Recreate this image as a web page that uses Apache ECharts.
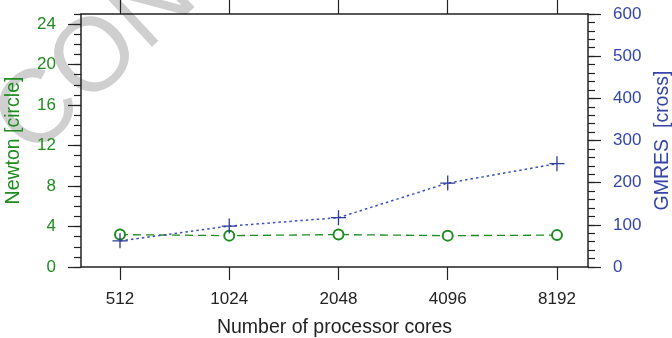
<!DOCTYPE html>
<html>
<head>
<meta charset="utf-8">
<script src="https://cdn.jsdelivr.net/npm/echarts@6/dist/echarts.min.js"></script>
<style>html,body{margin:0;padding:0;background:#fff}#c{width:672px;height:338px}</style>
</head>
<body>
<div id="c"></div>
<script>
const categories = ['512', '1024', '2048', '4096', '8192'];
const newtonValues = [3.2, 3.1, 3.2, 3.1, 3.15];
const gmresValues = [62, 97, 117, 199, 245];
const leftTicks = [0, 4, 8, 12, 16, 20, 24];
const rightTicks = [0, 100, 200, 300, 400, 500, 600];

const FONT = 'Liberation Sans, Arial, Helvetica, sans-serif';
const GREEN = '#1e8c1e';
const BLUE = '#3545a8';
const FRAME = '#222';
const catIdx = categories.map((_, i) => i);

const chart = echarts.init(document.getElementById('c'), null, {renderer: 'canvas'});

const xCommon = {
  type: 'value', min: -0.357, max: 4.284,
  splitLine: {show: false},
  axisLine: {show: true, onZero: false, lineStyle: {color: FRAME, width: 1.5}},
  axisTick: {show: true, customValues: catIdx, inside: false, lineStyle: {color: FRAME, width: 1.2}}
};

const option = {
  animation: false,
  grid: {left: 81, right: 84, top: 14, bottom: 71, containLabel: false, outerBoundsMode: 'none'},
  graphic: [{
    type: 'text', z: -10, zlevel: 0,
    x: 12, y: 138, rotation: 43 * Math.PI / 180,
    style: {text: 'CONFIDENTIAL', fontSize: 104, fontFamily: FONT, fill: '#cfcfcf', align: 'left', verticalAlign: 'middle'}
  }],
  xAxis: [
    Object.assign({}, xCommon, {
      position: 'bottom',
      axisTick: Object.assign({}, xCommon.axisTick, {length: 13}),
      axisLabel: {show: true, customValues: catIdx, margin: 24, color: '#222', fontSize: 17, fontFamily: FONT,
        formatter: v => categories[Math.round(v)]},
      name: 'Number of processor cores', nameLocation: 'middle', nameGap: 51, nameMoveOverlap: false,
      nameTextStyle: {color: '#222', fontSize: 19.5, fontFamily: FONT}
    }),
    Object.assign({}, xCommon, {
      position: 'top',
      axisTick: Object.assign({}, xCommon.axisTick, {length: 15}),
      axisLabel: {show: false}
    })
  ],
  yAxis: [
    {
      type: 'value', position: 'left', min: 0, max: 25,
      splitLine: {show: false},
      axisLine: {show: true, onZero: false, lineStyle: {color: FRAME, width: 1.5}},
      axisTick: {show: true, customValues: leftTicks, length: 13, lineStyle: {color: FRAME, width: 1.2}},
      axisLabel: {show: true, customValues: leftTicks, margin: 25, color: GREEN, fontSize: 17, fontFamily: FONT},
      name: 'Newton [circle]', nameLocation: 'middle', nameGap: 57, nameRotate: 90, nameMoveOverlap: false,
      nameTextStyle: {color: GREEN, fontSize: 19.5, fontFamily: FONT}
    },
    {
      type: 'value', position: 'left', min: 0, max: 25, interval: 1,
      splitLine: {show: false},
      axisLine: {show: false, onZero: false},
      axisTick: {show: true, length: 7, lineStyle: {color: FRAME, width: 1.2}},
      axisLabel: {show: false}
    },
    {
      type: 'value', position: 'right', min: 0, max: 600,
      splitLine: {show: false},
      axisLine: {show: true, onZero: false, lineStyle: {color: FRAME, width: 1.5}},
      axisTick: {show: true, customValues: rightTicks, length: 13, lineStyle: {color: FRAME, width: 1.2}},
      axisLabel: {show: true, customValues: rightTicks, margin: 25, color: BLUE, fontSize: 17, fontFamily: FONT},
      name: 'GMRES  [cross]', nameLocation: 'middle', nameGap: 65, nameRotate: 90, nameMoveOverlap: false,
      nameTextStyle: {color: BLUE, fontSize: 19.5, fontFamily: FONT}
    },
    {
      type: 'value', position: 'right', min: 0, max: 600, interval: 20,
      splitLine: {show: false},
      axisLine: {show: false, onZero: false},
      axisTick: {show: true, length: 7, lineStyle: {color: FRAME, width: 1.2}},
      axisLabel: {show: false}
    }
  ],
  series: [
    {
      name: 'Newton', type: 'line', xAxisIndex: 0, yAxisIndex: 0,
      data: newtonValues.map((v, i) => [catIdx[i], v]),
      symbol: 'emptyCircle', symbolSize: 10,
      lineStyle: {color: GREEN, width: 1.3, type: [8, 5]},
      itemStyle: {color: GREEN, borderColor: GREEN, borderWidth: 1.2}
    },
    {
      name: 'GMRES', type: 'line', xAxisIndex: 0, yAxisIndex: 2,
      data: gmresValues.map((v, i) => [catIdx[i], v]),
      symbol: 'path://M50,0L50,100M0,50L100,50', symbolSize: 15,
      lineStyle: {color: '#3a4fc0', width: 1.5, type: [2.5, 3]},
      itemStyle: {color: 'none', borderColor: '#2b3a98', borderWidth: 1.3}
    }
  ]
};
chart.setOption(option);
</script>
</body>
</html>
